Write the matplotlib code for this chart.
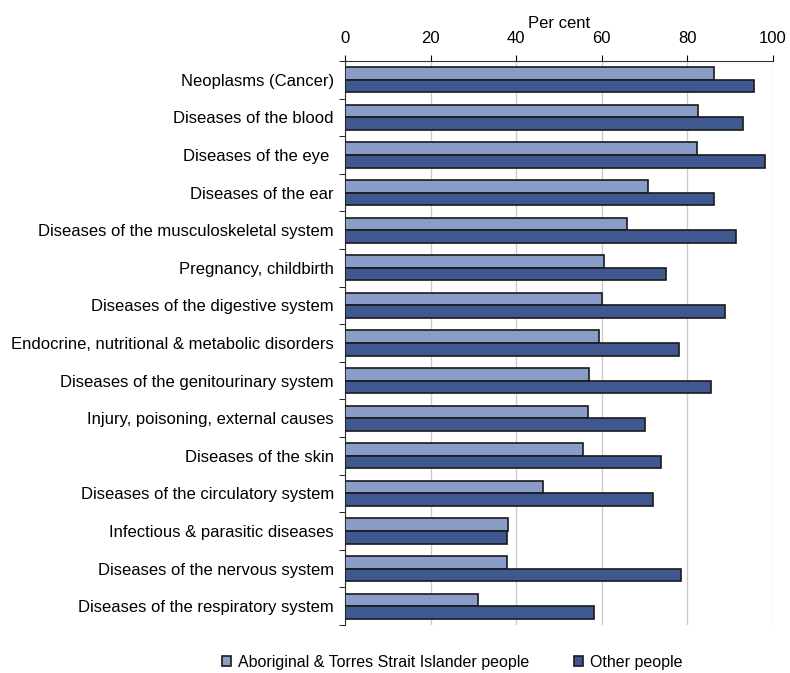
import matplotlib
matplotlib.use("Agg")
import matplotlib.pyplot as plt
import numpy as np

plt.rcParams['font.family'] = ['Liberation Sans', 'DejaVu Sans']

categories = [
    "Neoplasms (Cancer)",
    "Diseases of the blood",
    "Diseases of the eye ",
    "Diseases of the ear",
    "Diseases of the musculoskeletal system",
    "Pregnancy, childbirth",
    "Diseases of the digestive system",
    "Endocrine, nutritional & metabolic disorders",
    "Diseases of the genitourinary system",
    "Injury, poisoning, external causes",
    "Diseases of the skin",
    "Diseases of the circulatory system",
    "Infectious & parasitic diseases",
    "Diseases of the nervous system",
    "Diseases of the respiratory system",
]
indigenous = [86.2, 82.5, 82.2, 70.9, 65.8, 60.4, 60.1, 59.3, 57.1, 56.7, 55.6, 46.2, 38.2, 37.8, 31.0]
other = [95.6, 93.1, 98.2, 86.2, 91.3, 74.9, 88.8, 78.1, 85.4, 70.2, 73.9, 72.0, 37.8, 78.5, 58.2]
xticks = [0, 20, 40, 60, 80, 100]

fs = 12.0
fig = plt.figure(figsize=(7.9, 6.73), dpi=100)
ax = fig.add_axes([345/790, 1 - 625/673, (773 - 345)/790, (625 - 61)/673])

n = len(categories)
y = np.arange(n)
h = 0.335
ax.barh(y - h/2, indigenous, height=h, color="#8a9dc9", edgecolor="#1a1a1a", linewidth=1.2,
        label="Aboriginal & Torres Strait Islander people", zorder=3)
ax.barh(y + h/2, other, height=h, color="#3f5890", edgecolor="#1a1a1a", linewidth=1.2,
        label="Other people", zorder=3)

ax.set_ylim(n - 0.5, -0.5)
ax.set_xlim(0, 100)
ax.set_yticks(y)
ax.set_yticklabels(categories, fontsize=fs)
ax.tick_params(axis='y', length=0, pad=8)
ax.set_yticks(np.arange(n + 1) - 0.5, minor=True)
ax.tick_params(axis='y', which='minor', length=4, direction='out')

ax.xaxis.tick_top()
ax.xaxis.set_label_position('top')
ax.set_xticks(xticks)
ax.set_xticklabels([str(t) for t in xticks], fontsize=fs)
ax.tick_params(axis='x', length=4, direction='out', pad=7)
ax.set_xlabel("Per cent", fontsize=fs, labelpad=2)
ax.grid(axis='x', color="#cccccc", linewidth=1, zorder=0)

ax.spines['right'].set_visible(False)
ax.spines['bottom'].set_visible(False)
for s in ['top', 'left']:
    ax.spines[s].set_color("#333333")

fig.legend(loc='center', bbox_to_anchor=(452/790, 1 - 662/673), ncol=2, frameon=False,
           fontsize=11.5, handlelength=0.6, handleheight=0.6, columnspacing=2.8, handletextpad=0.4)

fig.savefig("out.png", dpi=100)
